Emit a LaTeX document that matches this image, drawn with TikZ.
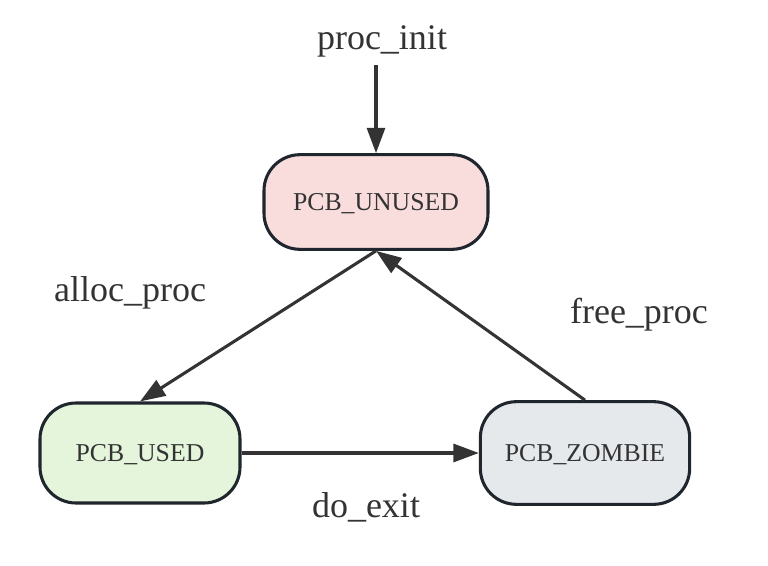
\documentclass[tikz,border=0pt]{standalone}
\usepackage{fontspec}
\setmainfont{Liberation Serif}
\usetikzlibrary{positioning,arrows,arrows.meta,calc}
\definecolor{edgegray}{HTML}{333333}
\definecolor{bordergray}{HTML}{1F262D}
\definecolor{unusedfill}{HTML}{F9DCDC}
\definecolor{usedfill}{HTML}{E4F5DB}
\definecolor{zombiefill}{HTML}{E6E9EC}
\tikzstyle{sbox}=[rectangle, rounded corners=27pt, draw=bordergray, line width=2.3pt, text=edgegray, font=\fontsize{19.3}{22}\selectfont, inner sep=2pt, text depth=0pt, text centered]
\tikzstyle{elabel}=[text=edgegray, font=\fontsize{27}{30}\selectfont, inner sep=0pt]
\tikzstyle{eline}=[-{Triangle[length=19pt,width=13.5pt]}, line width=2.3pt, draw=edgegray]

\begin{document}
\begin{tikzpicture}[x=0.75pt,y=-0.75pt]
\useasboundingbox (0,0) rectangle (768,565);
\node (UNUSED) [sbox, fill=unusedfill, minimum width=168pt, minimum height=71pt] at (376,202) {PCB\_UNUSED};
\node (USED) [sbox, fill=usedfill, minimum width=150pt, minimum height=75pt] at (140,453) {PCB\_USED};
\node (ZOMBIE) [sbox, fill=zombiefill, minimum width=157pt, minimum height=77pt] at (585,453) {PCB\_ZOMBIE};
\node (INIT) [elabel] at (382,41) {proc\_init};
\coordinate (INITend) at (376,65);
\node (ALLOC) [elabel] at (130,293) {alloc\_proc};
\node (FREE) [elabel] at (639,315) {free\_proc};
\node (EXIT) [elabel] at (366,507) {do\_exit};
 \draw[eline]   (INITend) -- (UNUSED.north) ;
 \draw[eline]   (UNUSED.south) -- (USED.north) ;
 \draw[eline]   (ZOMBIE.north) -- (UNUSED.south) ;
 \draw[eline]   (USED.east) -- (ZOMBIE.west) ;
\end{tikzpicture}
\end{document}
